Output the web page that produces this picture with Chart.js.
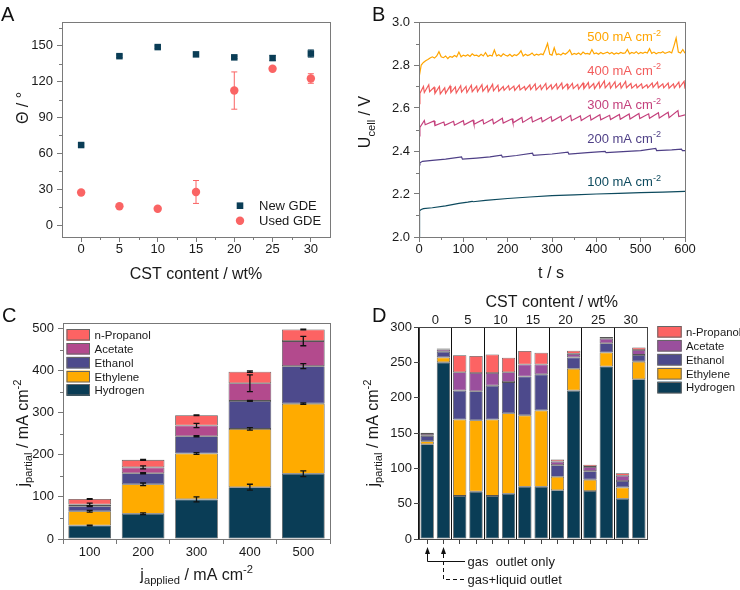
<!DOCTYPE html>
<html><head><meta charset="utf-8">
<script src="https://cdn.jsdelivr.net/npm/chart.js@4.4.1/dist/chart.umd.min.js"></script>
<style>
html,body{margin:0;padding:0;background:#fff;}
#wrap{position:relative;width:740px;height:590px;overflow:hidden;background:#fff;}
canvas{position:absolute;}
</style></head><body>
<div id="wrap">
<canvas id="cA" width="370" height="290" style="left:0px;top:0px"></canvas>
<canvas id="cB" width="390" height="290" style="left:350px;top:0px"></canvas>
<canvas id="cC" width="370" height="300" style="left:0px;top:290px"></canvas>
<canvas id="cD" width="390" height="300" style="left:350px;top:290px"></canvas>
</div>
<script>
// ---------------- DATA ----------------
// Panel A: contact angle vs CST content
const cstA = [0, 5, 10, 15, 20, 25, 30];
const newGDE = [67, 141.4, 149, 142.9, 140.4, 139.8, 143.6];
const newGDEerr = [1, 1, 1, 1.5, 1, 2, 3];
const usedGDE = [27.2, 15.7, 13.7, 27.7, 112.6, 130.8, 122.7];
const usedGDEerr = [1, 1, 1, 9.6, 15.6, 1.5, 4];
const ticksAx = [0, 5, 10, 15, 20, 25, 30];
const ticksAy = [0, 30, 60, 90, 120, 150];

// Panel B: cell voltage vs time
const t100 = [0,0.5,2,5,10,30,60,90,110,120,122,150,200,250,300,350,400,450,500,550,600];
const u100 = [2.00,2.10,2.122,2.128,2.132,2.136,2.145,2.156,2.162,2.166,2.164,2.170,2.179,2.186,2.192,2.196,2.200,2.203,2.206,2.209,2.212];
const t200 = [0,2,8,30,60,96,98,130,160,186,188,220,256,258,300,336,338,380,420,422,470,500,534,536,570,592,594,600];
const u200 = [2.335,2.345,2.352,2.356,2.362,2.372,2.362,2.367,2.373,2.381,2.372,2.379,2.390,2.380,2.386,2.395,2.386,2.392,2.398,2.392,2.398,2.402,2.412,2.402,2.405,2.409,2.402,2.402];
const t300 = [0,2,12,14,34,36,56,58,78,80,100,102,122,124,144,146,166,168,188,190,210,212,232,234,254,256,276,278,298,300,320,322,342,344,364,366,386,388,408,410,430,432,452,454,474,476,496,498,518,520,540,542,562,564,584,586,600];
const u300 = [2.47,2.51,2.542,2.522,2.540,2.518,2.535,2.519,2.538,2.520,2.541,2.522,2.543,2.524,2.546,2.526,2.548,2.527,2.552,2.530,2.550,2.531,2.556,2.533,2.558,2.535,2.555,2.536,2.560,2.538,2.562,2.540,2.565,2.541,2.563,2.542,2.567,2.544,2.569,2.545,2.566,2.546,2.570,2.548,2.572,2.549,2.575,2.551,2.573,2.552,2.578,2.553,2.580,2.555,2.588,2.560,2.568];
const t400 = [0,2,10,12,22,24,34,36,46,48,58,60,70,72,82,84,94,96,106,108,118,120,130,132,142,144,154,156,166,168,178,180,190,192,202,204,214,216,226,228,238,240,250,252,262,264,274,276,286,288,298,300,310,312,322,324,334,336,346,348,358,360,370,372,382,384,394,396,406,408,418,420,430,432,442,444,454,456,466,468,478,480,490,492,502,504,514,516,526,528,538,540,550,552,562,564,574,576,586,588,598,600];
const u400 = [2.62,2.668,2.700,2.672,2.708,2.676,2.696,2.668,2.700,2.666,2.694,2.668,2.702,2.672,2.698,2.670,2.704,2.674,2.700,2.672,2.706,2.676,2.702,2.676,2.708,2.678,2.704,2.676,2.710,2.680,2.706,2.678,2.700,2.682,2.704,2.684,2.702,2.682,2.706,2.684,2.700,2.684,2.708,2.686,2.712,2.684,2.706,2.686,2.714,2.686,2.708,2.688,2.712,2.688,2.716,2.690,2.712,2.688,2.714,2.690,2.710,2.688,2.716,2.690,2.718,2.692,2.714,2.690,2.720,2.694,2.726,2.694,2.718,2.692,2.722,2.694,2.716,2.692,2.724,2.694,2.714,2.692,2.710,2.694,2.712,2.692,2.708,2.694,2.716,2.696,2.720,2.694,2.712,2.694,2.716,2.692,2.712,2.694,2.720,2.696,2.724,2.690];
const t500 = [0,5,10,15,20,25,30,35,40,45,50,55,60,65,70,75,80,85,90,95,100,105,110,115,120,125,130,135,140,145,150,155,160,165,170,175,180,185,190,195,200,205,210,215,220,225,230,235,240,245,250,255,260,265,270,275,280,285,290,295,300,305,310,315,320,325,330,335,340,345,350,355,360,365,370,375,380,385,390,395,400,405,410,415,420,425,430,435,440,445,450,455,460,465,470,475,480,485,490,495,500,505,510,515,520,525,530,535,540,545,550,555,560,565,570,575,580,585,590,595,600];
const u500 = [2.740,2.800,2.812,2.820,2.826,2.833,2.838,2.832,2.842,2.862,2.838,2.834,2.842,2.830,2.840,2.836,2.844,2.838,2.860,2.838,2.846,2.842,2.848,2.840,2.852,2.844,2.846,2.840,2.850,2.842,2.858,2.840,2.846,2.842,2.870,2.842,2.848,2.840,2.852,2.845,2.842,2.850,2.840,2.848,2.844,2.852,2.866,2.842,2.850,2.844,2.848,2.856,2.844,2.850,2.846,2.852,2.848,2.872,2.900,2.850,2.846,2.880,2.848,2.852,2.846,2.856,2.850,2.858,2.870,2.848,2.854,2.850,2.856,2.848,2.860,2.852,2.854,2.850,2.872,2.852,2.856,2.850,2.858,2.852,2.856,2.860,2.852,2.858,2.850,2.856,2.852,2.858,2.854,2.856,2.872,2.852,2.858,2.854,2.862,2.852,2.858,2.854,2.860,2.856,2.876,2.854,2.860,2.852,2.858,2.856,2.862,2.854,2.858,2.862,2.856,2.888,2.925,2.860,2.856,2.872,2.855];
const currentsB = ['100', '200', '300', '400', '500'];
const ticksBx = [0, 100, 200, 300, 400, 500, 600];
const ticksBy = [2.0, 2.2, 2.4, 2.6, 2.8, 3.0];

// Panel C: partial current densities vs applied current density
const appliedC = ['100', '200', '300', '400', '500'];
const hydrogenC = [32, 60, 94, 123, 155];
const ethyleneC = [34, 70, 109, 138.5, 166.5];
const ethanolC  = [12, 26, 41, 66.5, 89];
const acetateC  = [4, 14, 25.5, 42, 59.5];
const propanolC = [13, 18, 24.5, 27.5, 27.5];
const hydrogenCerr = [1, 2, 6, 7, 7];
const ethyleneCerr = [2, 3, 2, 3, 2];
const ethanolCerr  = [1, 1.5, 1.5, 1, 6];
const acetateCerr  = [3, 3.5, 5, 20, 11];
const propanolCerr = [1, 1, 1, 2, 1];
const ticksCy = [0, 100, 200, 300, 400, 500];

// Panel D: partial current densities vs CST content (pairs of bars)
const cstGroupsD = ['0', '5', '10', '15', '20', '25', '30'];
const barsD = ['0-1','0-2','5-1','5-2','10-1','10-2','15-1','15-2','20-1','20-2','25-1','25-2','30-1','30-2'];
const hydrogenD = [134, 250, 61, 67, 61, 64, 74, 74, 69, 210, 68, 244, 57, 226];
const ethyleneD = [4.5, 7, 108, 101, 108, 114, 101, 108, 19, 31, 16, 20, 16, 25];
const ethanolD  = [7.5, 8, 41, 41, 48, 44, 55, 51, 16.5, 16, 12, 13, 9, 9.5];
const acetateD  = [2.5, 3, 26, 26, 18, 14, 17, 14, 5, 5, 6, 6.5, 7.5, 7];
const propanolD = [2, 1.5, 24, 24, 26, 20.5, 19, 16.5, 3, 4.5, 3, 2.5, 3.5, 3.5];
const ticksDy = [0, 50, 100, 150, 200, 250, 300];
const productNames = ['Hydrogen', 'Ethylene', 'Ethanol', 'Acetate', 'n-Propanol'];

// ---------------- STYLE ----------------
const FONT = '"Liberation Sans", Arial, Helvetica, sans-serif';
Chart.defaults.font.family = FONT;
Chart.defaults.font.size = 13;
Chart.defaults.color = '#1a1a1a';
Chart.defaults.animation = false;

const colH = '#0a3d56', colE = '#ffab00', colEt = '#4d4a8c', colAcC = '#b34a8d', colAcD = '#9a4f9d', colP = '#fd6363';
const colNew = '#0a3d56', colUsed = '#fa6464';
const lineCols = ['#0d4a5e', '#4e3f86', '#c4407c', '#f25c5c', '#ffa500'];

function rich(ctx, parts, x, y, size, color, align, rot) {
  ctx.save();
  ctx.fillStyle = color;
  ctx.textBaseline = 'alphabetic';
  ctx.textAlign = 'left';
  const f = s => s + 'px ' + FONT;
  let w = 0;
  const ws = parts.map(p => { ctx.font = f(p[1] ? size * 0.7 : size); const m = ctx.measureText(p[0]).width; w += m; return m; });
  ctx.translate(x, y);
  if (rot) ctx.rotate(-Math.PI / 2);
  let cx = align === 'left' ? 0 : align === 'right' ? -w : -w / 2;
  const base = size * 0.36;
  parts.forEach((p, i) => {
    const s = p[1] ? size * 0.7 : size;
    ctx.font = f(s);
    const dy = p[1] === 1 ? size * 0.28 : p[1] === 2 ? -size * 0.42 : 0;
    ctx.fillText(p[0], cx, base + dy);
    cx += ws[i];
  });
  ctx.restore();
}
function letter(ctx, t, x, y) {
  ctx.save(); ctx.font = '20px ' + FONT; ctx.fillStyle = '#111'; ctx.textBaseline = 'alphabetic'; ctx.fillText(t, x, y); ctx.restore();
}
function frame(chart, color) {
  const a = chart.chartArea, ctx = chart.ctx;
  ctx.save(); ctx.strokeStyle = color; ctx.lineWidth = 1;
  ctx.strokeRect(Math.round(a.left) + 0.5, Math.round(a.top) + 0.5, Math.round(a.right - a.left), Math.round(a.bottom - a.top));
  ctx.restore();
}
function minorTicks(chart, axis, vals, color) {
  const s = chart.scales[axis], a = chart.chartArea, ctx = chart.ctx;
  ctx.save(); ctx.strokeStyle = color; ctx.lineWidth = 1; ctx.beginPath();
  vals.forEach(v => {
    const p = Math.round(s.getPixelForValue(v)) + 0.5;
    if (s.isHorizontal()) { ctx.moveTo(p, a.bottom); ctx.lineTo(p, a.bottom + 3); }
    else { ctx.moveTo(a.left, p); ctx.lineTo(a.left - 3, p); }
  });
  ctx.stroke(); ctx.restore();
}
function setTicks(vals) { return s => { s.ticks = vals.map(v => ({ value: v })); }; }
function axisStyle(color, extra) {
  return Object.assign({
    grid: { drawOnChartArea: false, drawTicks: true, tickLength: 5, color: color, lineWidth: 1 },
    border: { display: false },
  }, extra);
}
const baseOpts = { responsive: false, devicePixelRatio: 1, animation: false,
  plugins: { legend: { display: false }, tooltip: { enabled: false } } };

// ---------------- PANEL A ----------------
const frameA = '#7a7a7a';
new Chart(document.getElementById('cA'), {
  type: 'scatter',
  data: { datasets: [
    { label: 'New GDE', data: cstA.map((x, i) => ({ x: x, y: newGDE[i] })), err: newGDEerr,
      pointStyle: 'rect', pointRadius: 4.6, backgroundColor: colNew, borderColor: colNew, borderWidth: 0 },
    { label: 'Used GDE', data: cstA.map((x, i) => ({ x: x, y: usedGDE[i] })), err: usedGDEerr,
      pointStyle: 'circle', pointRadius: 4.2, backgroundColor: colUsed, borderColor: colUsed, borderWidth: 0 }
  ]},
  options: Object.assign({}, baseOpts, {
    layout: { padding: { left: 0, top: 22, right: 40, bottom: 0 } },
    scales: {
      x: axisStyle(frameA, { type: 'linear', min: -2.5, max: 32.5, afterBuildTicks: setTicks(ticksAx), afterFit: s => { s.height = 53; }, ticks: { padding: 0 } }),
      y: axisStyle(frameA, { type: 'linear', min: -10, max: 170, afterBuildTicks: setTicks(ticksAy), afterFit: s => { s.width = 62; }, ticks: { padding: 4 } })
    }
  }),
  plugins: [{
    id: 'decoA',
    beforeDatasetsDraw(chart) {
      const ctx = chart.ctx, ys = chart.scales.y, xs = chart.scales.x;
      chart.data.datasets.forEach(d => {
        ctx.save(); ctx.strokeStyle = d.borderColor; ctx.lineWidth = 1;
        d.data.forEach((p, i) => {
          const x = xs.getPixelForValue(p.x), y1 = ys.getPixelForValue(p.y + d.err[i]), y2 = ys.getPixelForValue(p.y - d.err[i]);
          ctx.beginPath(); ctx.moveTo(x, y1); ctx.lineTo(x, y2);
          ctx.moveTo(x - 3, y1); ctx.lineTo(x + 3, y1); ctx.moveTo(x - 3, y2); ctx.lineTo(x + 3, y2); ctx.stroke();
        });
        ctx.restore();
      });
    },
    afterDraw(chart) {
      const ctx = chart.ctx;
      frame(chart, frameA);
      minorTicks(chart, 'x', [2.5, 7.5, 12.5, 17.5, 22.5, 27.5], frameA);
      minorTicks(chart, 'y', [15, 45, 75, 105, 135, 165], frameA);
      // legend
      const ds = chart.data.datasets;
      ctx.save();
      ctx.fillStyle = colNew; ctx.fillRect(240 - 3.3, 205.7 - 3.3, 6.6, 6.6);
      ctx.fillStyle = colUsed; ctx.beginPath(); ctx.arc(240, 220.7, 4.2, 0, Math.PI * 2); ctx.fill();
      ctx.restore();
      rich(ctx, [[ds[0].label, 0]], 259, 205.7, 13, '#1a1a1a', 'left');
      rich(ctx, [[ds[1].label, 0]], 259, 220.7, 13, '#1a1a1a', 'left');
      rich(ctx, [['Θ / °', 0]], 22, 108, 16, '#1a1a1a', 'center', true);
      rich(ctx, [['CST content / wt%', 0]], 196, 273, 16, '#1a1a1a', 'center');
      letter(ctx, 'A', 1, 21);
    }
  }]
});

// ---------------- PANEL B ----------------
const frameB = '#7a7a7a';
const seriesB = [[t100, u100], [t200, u200], [t300, u300], [t400, u400], [t500, u500]];
new Chart(document.getElementById('cB'), {
  type: 'line',
  data: { datasets: seriesB.map((s, k) => ({
    label: currentsB[k] + ' mA cm-2',
    data: s[0].map((t, i) => ({ x: t, y: s[1][i] })),
    borderColor: lineCols[k], borderWidth: 1.2, pointRadius: 0, tension: 0, fill: false
  })) },
  options: Object.assign({}, baseOpts, {
    layout: { padding: { left: 0, top: 22, right: 55, bottom: 0 } },
    scales: {
      x: axisStyle(frameB, { type: 'linear', min: 0, max: 600, afterBuildTicks: setTicks(ticksBx), afterFit: s => { s.height = 53; }, ticks: { padding: 0 } }),
      y: axisStyle(frameB, { type: 'linear', min: 2.0, max: 3.0, afterBuildTicks: setTicks(ticksBy), afterFit: s => { s.width = 69; }, ticks: { padding: 4, callback: v => v.toFixed(1) } })
    }
  }),
  plugins: [{
    id: 'decoB',
    afterDraw(chart) {
      const ctx = chart.ctx;
      frame(chart, frameB);
      minorTicks(chart, 'x', [50, 150, 250, 350, 450, 550], frameB);
      minorTicks(chart, 'y', [2.1, 2.3, 2.5, 2.7, 2.9], frameB);
      const labY = [181.3, 138, 104.5, 70, 36.5];
      currentsB.forEach((c, k) => {
        rich(ctx, [[c + ' mA cm', 0], ['-2', 2]], 311, labY[k], 13, lineCols[k], 'right');
      });
      rich(ctx, [['U', 0], ['cell', 1], [' / V', 0]], 14.5, 122, 16, '#1a1a1a', 'center', true);
      rich(ctx, [['t / s', 0]], 201, 272, 16, '#1a1a1a', 'center');
      letter(ctx, 'B', 22, 21);
    }
  }]
});

// ---------------- PANEL C ----------------
const frameC = '#777777';
const valsC = [hydrogenC, ethyleneC, ethanolC, acetateC, propanolC];
const errsC = [hydrogenCerr, ethyleneCerr, ethanolCerr, acetateCerr, propanolCerr];
const colsC = [colH, colE, colEt, colAcC, colP];
function stackErrPlugin(errs) {
  return {
    id: 'stackErr',
    afterDatasetsDraw(chart) {
      const ctx = chart.ctx, ys = chart.scales.y, ds = chart.data.datasets;
      ctx.save(); ctx.strokeStyle = '#111'; ctx.lineWidth = 1.3;
      ds.forEach((d, di) => {
        chart.getDatasetMeta(di).data.forEach((el, i) => {
          let cum = 0; for (let k = 0; k <= di; k++) cum += ds[k].data[i];
          const e = errs[di][i], x = el.x;
          const y1 = ys.getPixelForValue(cum + e), y2 = ys.getPixelForValue(cum - e);
          ctx.beginPath(); ctx.moveTo(x, y1); ctx.lineTo(x, y2);
          ctx.moveTo(x - 3, y1); ctx.lineTo(x + 3, y1); ctx.moveTo(x - 3, y2); ctx.lineTo(x + 3, y2); ctx.stroke();
        });
      });
      ctx.restore();
    }
  };
}
function drawLegend(ctx, chart, x0, yc0, bw, bh, step, tx, size) {
  const ds = chart.data.datasets.slice().reverse();
  ds.forEach((d, i) => {
    const yc = yc0 + i * step;
    ctx.save(); ctx.fillStyle = d.backgroundColor; ctx.fillRect(x0, yc - bh / 2, bw, bh);
    ctx.strokeStyle = '#666'; ctx.lineWidth = 1; ctx.strokeRect(x0 + 0.5, Math.round(yc - bh / 2) + 0.5, bw - 1, bh - 1); ctx.restore();
    rich(ctx, [[d.label, 0]], tx, yc, size, '#1a1a1a', 'left');
  });
}
new Chart(document.getElementById('cC'), {
  type: 'bar',
  data: { labels: appliedC, datasets: valsC.map((v, k) => ({
    label: productNames[k], data: v, backgroundColor: colsC[k], borderColor: 'rgba(55,55,55,0.85)', borderWidth: 0.8,
    borderSkipped: false, barPercentage: 0.8, categoryPercentage: 1.0
  })) },
  options: Object.assign({}, baseOpts, {
    layout: { padding: { left: 0, top: 33, right: 40, bottom: 0 } },
    scales: {
      x: axisStyle(frameC, { stacked: true, afterFit: s => { s.height = 51; }, ticks: { padding: 1 } }),
      y: axisStyle(frameC, { stacked: true, min: 0, max: 513, afterBuildTicks: setTicks(ticksCy), afterFit: s => { s.width = 63; }, ticks: { padding: 4 } })
    }
  }),
  plugins: [stackErrPlugin(errsC), {
    id: 'decoC',
    afterDraw(chart) {
      const ctx = chart.ctx;
      frame(chart, frameC);
      minorTicks(chart, 'y', [50, 150, 250, 350, 450], frameC);
      drawLegend(ctx, chart, 66.5, 45, 23.5, 11.5, 13.8, 94.5, 11.5);
      rich(ctx, [['j', 0], ['partial', 1], [' / mA cm', 0], ['-2', 2]], 22, 143, 16, '#1a1a1a', 'center', true);
      rich(ctx, [['j', 0], ['applied', 1], [' / mA cm', 0], ['-2', 2]], 196.7, 284, 16, '#1a1a1a', 'center');
      letter(ctx, 'C', 2, 32);
    }
  }]
});

// ---------------- PANEL D ----------------
const frameD = '#444444';
const valsD = [hydrogenD, ethyleneD, ethanolD, acetateD, propanolD];
const colsD = [colH, colE, colEt, colAcD, colP];
new Chart(document.getElementById('cD'), {
  type: 'bar',
  data: { labels: barsD, datasets: valsD.map((v, k) => ({
    label: productNames[k], data: v, xAxisID: 'x', yAxisID: 'y', backgroundColor: colsD[k], borderColor: 'rgba(55,55,55,0.85)', borderWidth: 0.8,
    borderSkipped: false, barPercentage: 0.82, categoryPercentage: 1.0
  })) },
  options: Object.assign({}, baseOpts, {
    layout: { padding: { left: 0, top: 0, right: 93, bottom: 0 } },
    scales: {
      x: axisStyle(frameD, { type: 'category', position: 'bottom', stacked: true, offset: true,
        grid: { offset: false, drawOnChartArea: false, drawTicks: true, tickLength: 5, color: frameD },
        afterFit: s => { s.height = 51; }, ticks: { display: false } }),
      x2: { type: 'category', position: 'top', labels: cstGroupsD, offset: true,
        grid: { offset: true, drawOnChartArea: true, drawTicks: false, color: '#111', lineWidth: 1 },
        border: { display: false }, afterFit: s => { s.height = 37; }, ticks: { padding: -1 } },
      y: axisStyle(frameD, { stacked: true, min: 0, max: 300, afterBuildTicks: setTicks(ticksDy), afterFit: s => { s.width = 69; }, ticks: { padding: 2 } })
    }
  }),
  plugins: [{
    id: 'decoD',
    afterDraw(chart) {
      const ctx = chart.ctx, xs = chart.scales.x;
      frame(chart, frameD);
      drawLegend(ctx, chart, 307.3, 41.8, 24.4, 11.6, 13.9, 336, 11.3);
      rich(ctx, [['j', 0], ['partial', 1], [' / mA cm', 0], ['-2', 2]], 22, 143, 16, '#1a1a1a', 'center', true);
      rich(ctx, [['CST content / wt%', 0]], 201.7, 11.7, 16, '#1a1a1a', 'center');
      letter(ctx, 'D', 22, 32);
      // outlet annotation
      const x0 = Math.round(xs.getPixelForValue(0)) + 0.5, x1 = Math.round(xs.getPixelForValue(1)) + 0.5;
      ctx.save(); ctx.strokeStyle = '#111'; ctx.fillStyle = '#111'; ctx.lineWidth = 1;
      ctx.beginPath(); ctx.moveTo(x0, 263); ctx.lineTo(x0, 271.5); ctx.lineTo(115, 271.5); ctx.stroke();
      ctx.beginPath(); ctx.moveTo(x0, 257); ctx.lineTo(x0 - 2.5, 264); ctx.lineTo(x0 + 2.5, 264); ctx.closePath(); ctx.fill();
      ctx.setLineDash([4, 3]);
      ctx.beginPath(); ctx.moveTo(x1, 264); ctx.lineTo(x1, 289.5); ctx.lineTo(115, 289.5); ctx.stroke();
      ctx.setLineDash([]);
      ctx.beginPath(); ctx.moveTo(x1, 257); ctx.lineTo(x1 - 2.5, 264); ctx.lineTo(x1 + 2.5, 264); ctx.closePath(); ctx.fill();
      ctx.restore();
      rich(ctx, [['gas  outlet only', 0]], 117.5, 271, 13, '#1a1a1a', 'left');
      rich(ctx, [['gas+liquid outlet', 0]], 117.5, 289, 13, '#1a1a1a', 'left');
    }
  }]
});
</script>
</body></html>
